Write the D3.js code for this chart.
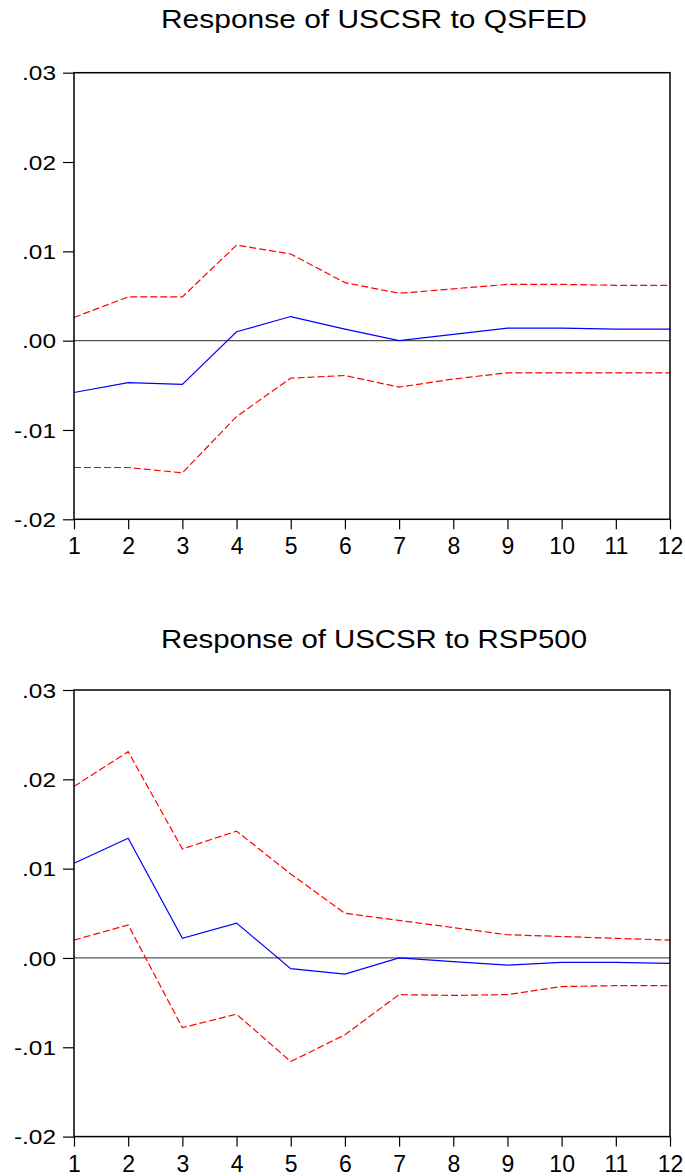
<!DOCTYPE html>
<html>
<head>
<meta charset="utf-8">
<script src="https://cdn.jsdelivr.net/npm/d3@7"></script>
<style>
  html, body { margin: 0; padding: 0; background: #fff; }
  svg { display: block; }
  text { font-family: "Liberation Sans", Arial, sans-serif; fill: #000; }
</style>
</head>
<body>
<svg id="chart" width="685" height="1176"></svg>
<script>
// ---- Data ----
const periods = [1,2,3,4,5,6,7,8,9,10,11,12];
const yTickValues = [0.03, 0.02, 0.01, 0.00, -0.01, -0.02];
const yTickLabels = [".03", ".02", ".01", ".00", "-.01", "-.02"];
const titles = ["Response of USCSR to QSFED", "Response of USCSR to RSP500"];

// Panel 1: Response of USCSR to QSFED
const qsfedResp  = [-0.0058, -0.0047, -0.0049, 0.0010, 0.0027, 0.0013, 0.0000, 0.0007, 0.0014, 0.0014, 0.0013, 0.0013];
const qsfedUpper = [0.0026, 0.0049, 0.0049, 0.0107, 0.0097, 0.0065, 0.0053, 0.0058, 0.0063, 0.0063, 0.0062, 0.0062];
const qsfedLower = [-0.0142, -0.0142, -0.0148, -0.0085, -0.0042, -0.0039, -0.0052, -0.0043, -0.0036, -0.0036, -0.0036, -0.0036];

// Panel 2: Response of USCSR to RSP500
const rspResp  = [0.0106, 0.0134, 0.0022, 0.0039, -0.0012, -0.0018, 0.0000, -0.0004, -0.0008, -0.0005, -0.0005, -0.0006];
const rspUpper = [0.0192, 0.0231, 0.0122, 0.0142, 0.0094, 0.0050, 0.0042, 0.0034, 0.0026, 0.0024, 0.0022, 0.0020];
const rspLower = [0.0020, 0.0037, -0.0078, -0.0063, -0.0116, -0.0086, -0.0041, -0.0042, -0.0041, -0.0032, -0.0031, -0.0031];

const panels = [
  { title: titles[0], resp: qsfedResp, upper: qsfedUpper, lower: qsfedLower, top: 72.7, bottom: 519.3, titleY: 27.7 },
  { title: titles[1], resp: rspResp,   upper: rspUpper,   lower: rspLower,   top: 690.0, bottom: 1136.6, titleY: 648.0 }
];

const svg = d3.select("#chart");
const left = 74, right = 670;

const x = d3.scaleLinear().domain([1, 12]).range([left, right]);

panels.forEach(p => {
  const y = d3.scaleLinear().domain([-0.02, 0.03]).range([p.bottom, p.top]);
  const g = svg.append("g");

  // title
  const t = g.append("text")
    .attr("x", 374).attr("y", p.titleY)
    .attr("text-anchor", "middle")
    .attr("font-size", 25)
    .text(p.title);
  t.attr("textLength", 426).attr("lengthAdjust", "spacingAndGlyphs");

  // zero line
  g.append("line")
    .attr("x1", x(1)).attr("x2", x(12))
    .attr("y1", y(0)).attr("y2", y(0))
    .attr("stroke", "#555").attr("stroke-width", 1.2);

  // y axis
  const yAxis = d3.axisLeft(y)
    .tickValues(yTickValues)
    .tickSize(11)
    .tickPadding(7)
    .tickFormat((d, i) => yTickLabels[i]);
  const ya = g.append("g").attr("transform", `translate(${left},0)`).call(yAxis);
  ya.select(".domain").remove();
  ya.selectAll(".tick line").attr("stroke", "#000").attr("stroke-width", 1.2);
  ya.selectAll(".tick text")
    .attr("font-size", 20)
    .attr("font-family", "Liberation Sans, Arial, sans-serif")
    .attr("fill", "#000")
    .attr("dy", "0.36em")
    .each(function() {
      const w = this.getComputedTextLength();
      d3.select(this).attr("textLength", w * 1.22).attr("lengthAdjust", "spacingAndGlyphs");
    });

  // x axis
  const xAxis = d3.axisBottom(x)
    .tickValues(periods)
    .tickSize(10)
    .tickPadding(7)
    .tickFormat(d3.format("d"));
  const xa = g.append("g").attr("transform", `translate(0,${p.bottom})`).call(xAxis);
  xa.select(".domain").remove();
  xa.selectAll(".tick line").attr("stroke", "#000").attr("stroke-width", 1.2);
  xa.selectAll(".tick text")
    .attr("font-size", 23)
    .attr("font-family", "Liberation Sans, Arial, sans-serif")
    .attr("fill", "#000")
    .attr("y", 35).attr("dy", 0);

  // lines
  const line = d3.line().x((d, i) => x(periods[i])).y(d => y(d));
  g.append("path").datum(p.upper)
    .attr("d", line).attr("fill", "none")
    .attr("stroke", "#ff0000").attr("stroke-width", 1.2)
    .attr("stroke-dasharray", "7,3");
  g.append("path").datum(p.lower)
    .attr("d", line).attr("fill", "none")
    .attr("stroke", "#ff0000").attr("stroke-width", 1.2)
    .attr("stroke-dasharray", "7,3");
  g.append("path").datum(p.resp)
    .attr("d", line).attr("fill", "none")
    .attr("stroke", "#0000ff").attr("stroke-width", 1.2);

  // frame
  g.append("rect")
    .attr("x", left).attr("y", p.top)
    .attr("width", right - left).attr("height", p.bottom - p.top)
    .attr("fill", "none").attr("stroke", "#000").attr("stroke-width", 1.5);
});
</script>
</body>
</html>
